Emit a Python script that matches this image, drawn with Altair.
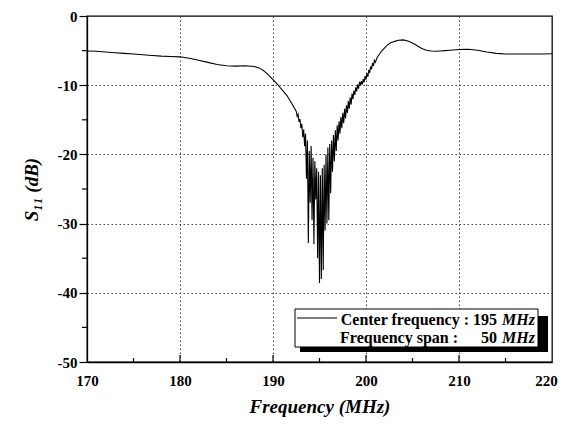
import altair as alt
import pandas as pd

# ---- data ----
freq = [170, 171, 172, 173, 174, 175, 176, 177, 178, 179, 180, 181, 182, 183, 184, 185, 186, 187, 188,
        188.5, 189, 189.5, 190, 190.5, 191, 191.5, 192, 192.25,
        192.5, 192.6, 192.7, 192.8, 192.9, 193.0, 193.1, 193.2, 193.3, 193.4, 193.5, 193.6, 193.7, 193.8, 193.9,
        194.0, 194.1, 194.2, 194.3, 194.4, 194.5, 194.6, 194.7, 194.8, 194.9,
        195.0, 195.1, 195.2, 195.3, 195.4, 195.5, 195.6, 195.7, 195.8, 195.9,
        196.0, 196.1, 196.2, 196.3, 196.4, 196.5, 196.6, 196.7, 196.8, 196.9,
        197.0, 197.1, 197.2, 197.3, 197.4, 197.5, 197.6, 197.7, 197.8, 197.9,
        198.0, 198.1, 198.2, 198.3, 198.4, 198.5, 198.6, 198.7, 198.8, 198.9,
        199.0, 199.1, 199.2, 199.3, 199.4, 199.5, 199.6, 199.7, 199.8, 199.9,
        200.0, 200.1, 200.2, 200.3, 200.4, 200.5, 200.6, 200.7, 200.8, 200.9,
        201.0, 201.2, 201.4, 201.6, 201.8, 202.0, 202.3, 202.6, 203.0, 203.5,
        204.0, 204.5, 205.0, 205.5, 206.0, 206.5, 207.0, 207.5, 208.0, 208.5, 209.0,
        210, 211, 212, 213, 214, 215, 216, 217, 218, 219, 220]
s11 = [-5.05, -5.1, -5.2, -5.3, -5.4, -5.5, -5.6, -5.7, -5.8, -5.85, -5.9, -6.1, -6.4, -6.7, -7.0, -7.2, -7.25, -7.2, -7.3,
       -7.5, -7.9, -8.5, -9.2, -9.9, -10.7, -11.5, -12.6, -13.2,
       -13.8, -14.5, -14.2, -15.3, -14.9, -16.2, -15.6, -17.5, -16.4, -18.8, -17.0, -23.5, -18.0, -32.8, -19.5,
       -27.0, -18.8, -29.5, -20.5, -33.0, -21.0, -26.5, -22.0, -35.0, -22.5,
       -38.6, -23.0, -38.0, -22.0, -36.7, -21.5, -31.0, -20.0, -30.0, -19.0,
       -29.5, -18.5, -25.6, -18.0, -22.5, -17.2, -21.0, -16.5, -19.5, -15.8,
       -18.0, -15.2, -17.0, -14.6, -16.2, -14.0, -15.5, -13.4, -14.8, -12.9,
       -14.0, -12.3, -13.4, -11.8, -12.8, -11.2, -12.0, -10.8, -11.4, -10.3,
       -10.9, -9.9, -10.5, -9.5, -10.0, -9.4, -9.9, -9.1, -9.6, -8.7,
       -9.2, -8.3, -8.8, -7.8, -8.2, -7.3, -7.7, -6.8, -7.2, -6.4,
       -6.7, -6.0, -5.6, -5.2, -4.9, -4.6, -4.2, -3.9, -3.7, -3.5,
       -3.45, -3.6, -3.9, -4.3, -4.7, -4.95, -5.05, -5.1, -5.05, -5.0, -4.95,
       -4.85, -4.8, -4.95, -5.2, -5.4, -5.5, -5.5, -5.5, -5.5, -5.5, -5.45]

x_major = [170, 180, 190, 200, 210, 220]
x_minor = [175, 185, 195, 205, 215]
x_inner_major = [180, 190, 200, 210]
y_major = [0, -10, -20, -30, -40, -50]
y_minor = [-5, -15, -25, -35, -45]

legend_row1 = "Center frequency : 195"
legend_row2a = "Frequency span :"
legend_row2b = "50"
legend_unit = "MHz"

FONT = "Liberation Serif"

df = pd.DataFrame({"f": freq, "s": s11})
one = pd.DataFrame({"a": [0]})

xscale = alt.Scale(domain=[170, 220], nice=False, zero=False)
yscale = alt.Scale(domain=[-50, 0], nice=False, zero=False)

xaxis = alt.Axis(
    values=x_major, title="Frequency (MHz)", ticks=False, tickSize=0,
    labelPadding=11, labelFont=FONT, labelFontSize=15, labelFontWeight="bold", labelColor="black",
    labelOffset={"condition": {"test": "datum.value == 220", "value": -6}, "value": 0},
    titleFont=FONT, titleFontSize=19, titleFontWeight="bold", titleFontStyle="italic", titleColor="black",
    titlePadding=9, domainColor="black", domainWidth=1.3,
    grid=True, gridColor="#444", gridDash=[1.5, 2.5], gridWidth=1, labelFlush=False)
yaxis = alt.Axis(
    values=y_major, title="S₁₁ (dB)", tickSize=8, tickColor="black", tickWidth=1.2,
    labelPadding=2, labelFont=FONT, labelFontSize=15, labelFontWeight="bold", labelColor="black",
    labelExpr="'' + datum.value",
    titleFont=FONT, titleFontSize=19, titleFontWeight="bold", titleFontStyle="italic", titleColor="black",
    titlePadding=16, domainColor="black", domainWidth=1.3,
    grid=True, gridColor="#444", gridDash=[1.5, 2.5], gridWidth=1, labelFlush=False)

line = alt.Chart(df).mark_line(color="black", strokeWidth=1.1).encode(
    x=alt.X("f:Q", scale=xscale, axis=xaxis),
    y=alt.Y("s:Q", scale=yscale, axis=yaxis),
)

xminor_rules = alt.Chart(pd.DataFrame({"f": x_minor})).mark_rule(color="black", strokeWidth=1.2).encode(
    x=alt.X("f:Q", scale=xscale, axis=xaxis), y=alt.value(346), y2=alt.value(342))
xmajor_rules = alt.Chart(pd.DataFrame({"f": x_inner_major})).mark_rule(color="black", strokeWidth=1.2).encode(
    x=alt.X("f:Q", scale=xscale, axis=xaxis), y=alt.value(346), y2=alt.value(339))
yminor_rules = alt.Chart(pd.DataFrame({"s": y_minor})).mark_rule(color="black", strokeWidth=1.2).encode(
    y=alt.Y("s:Q", scale=yscale, axis=yaxis), x=alt.value(-5), x2=alt.value(0))

shadow = alt.Chart(one).mark_rect(color="black").encode(
    x=alt.value(213), x2=alt.value(461), y=alt.value(300), y2=alt.value(336))
box = alt.Chart(one).mark_rect(fill="white", stroke="black", strokeWidth=1).encode(
    x=alt.value(208), x2=alt.value(451), y=alt.value(293), y2=alt.value(331))
sample = alt.Chart(one).mark_rule(color="black", strokeWidth=1.1).encode(
    x=alt.value(210), x2=alt.value(250), y=alt.value(302))

def txt(s, x, y, align, style="normal"):
    return alt.Chart(one).mark_text(font=FONT, fontSize=16, fontWeight="bold", fontStyle=style,
                                    align=align, baseline="alphabetic", color="black").encode(
        x=alt.value(x), y=alt.value(y), text=alt.value(s))

t1 = txt(legend_row1, 410, 309, "right")
t1u = txt(legend_unit, 415, 309, "left", "italic")
t2 = txt(legend_row2a, 371, 327, "right")
t2b = txt(legend_row2b, 410, 327, "right")
t2u = txt(legend_unit, 415, 327, "left", "italic")

chart = alt.layer(line, xminor_rules, xmajor_rules, yminor_rules,
                  shadow, box, sample, t1, t1u, t2, t2b, t2u).properties(
    width=465, height=346,
    autosize=alt.AutoSizeParams(type="none"),
    padding={"left": 79, "top": 8, "right": 6, "bottom": 56},
    background="white",
).configure_view(stroke="black", strokeWidth=1.3)

chart.save("out.html", embed_options={"renderer": "svg", "actions": False})
